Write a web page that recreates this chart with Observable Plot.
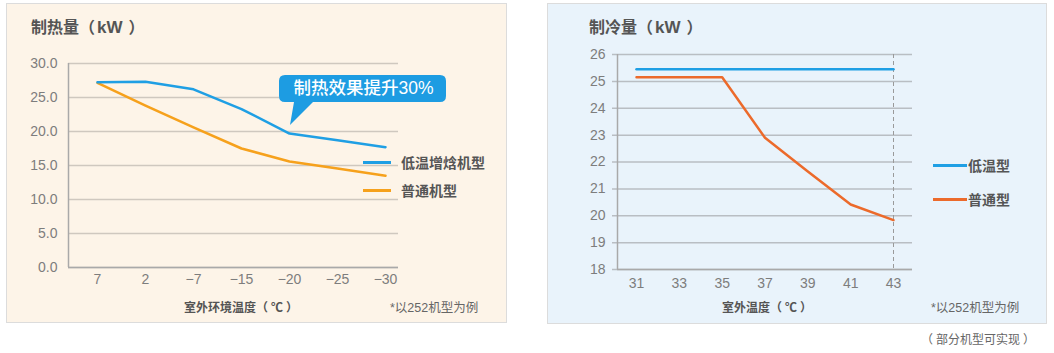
<!DOCTYPE html>
<html>
<head>
<meta charset="utf-8">
<script src="https://cdn.jsdelivr.net/npm/d3@7"></script>
<script src="https://cdn.jsdelivr.net/npm/@observablehq/plot@0.6"></script>
<style>
  html, body { margin: 0; padding: 0; background: #ffffff; }
  body { width: 1054px; height: 353px; position: relative; overflow: hidden;
         font-family: "Liberation Sans", "Noto Sans CJK SC", sans-serif; }
  .panel { position: absolute; box-sizing: border-box; border: 1.5px solid #dcdcdc; }
  .abs { position: absolute; white-space: nowrap; }
  .title { font-size: 16px; font-weight: bold; color: #555555; line-height: 20px; }
  .title .u { font-size: 17px; margin: 0 6px 0 2px; }
  .axt { font-size: 12px; font-weight: bold; color: #555555; line-height: 16px; }
  .axt .u { margin: 0 3px; }
  .note { font-size: 12.5px; color: #666666; line-height: 16px; }
  .note .u { margin: 0 3px; }
  .leg { font-size: 14px; font-weight: bold; color: #555555; line-height: 18px; }
  .sw { position: absolute; height: 3px; }
  .chart { position: absolute; top: 0; }
</style>
</head>
<body>
<script>
// ---------- data ----------
const heatTemps = ["7", "2", "\u22127", "\u221215", "\u221220", "\u221225", "\u221230"];
const heatLowTemp = [27.25, 27.3, 26.2, 23.3, 19.7, 18.7, 17.7];   // 低温增焓机型
const heatNormal  = [27.15, 23.8, 20.6, 17.5, 15.6, 14.55, 13.5];  // 普通机型
const heatYTicks  = [0, 5, 10, 15, 20, 25, 30];

const coolTemps   = [31, 33, 35, 37, 39, 41, 43];
const coolLowTemp = [25.45, 25.45, 25.45, 25.45, 25.45, 25.45, 25.45]; // 低温型
const coolNormal  = [25.15, 25.15, 25.15, 22.9, 21.65, 20.42, 19.84];  // 普通型
const coolYTicks  = [18, 19, 20, 21, 22, 23, 24, 25, 26];

const heatSeries = ["低温增焓机型", "普通机型"];
const coolSeries = ["低温型", "普通型"];
const calloutText = "制热效果提升30%";
const calloutAt = {t: "\u221220", v: 19.7};

const blue = "#1f9fe4";
const heatOrange = "#f6a11c";
const coolOrange = "#ec6a2b";

// ---------- tables ----------
const heatRows = heatTemps.flatMap((t, i) => [
  {t, v: heatLowTemp[i], s: heatSeries[0]},
  {t, v: heatNormal[i], s: heatSeries[1]}
]);
const coolRows = coolTemps.flatMap((t, i) => [
  {t, v: coolLowTemp[i], s: coolSeries[0]},
  {t, v: coolNormal[i], s: coolSeries[1]}
]);

const FONT = '"Liberation Sans", "Noto Sans CJK SC", sans-serif';

function leftAxisLine(color) {
  return (index, scales, values, dim) => {
    const g = d3.create("svg:g");
    g.append("line")
      .attr("x1", dim.marginLeft + 0.5).attr("x2", dim.marginLeft + 0.5)
      .attr("y1", dim.marginTop).attr("y2", dim.height - dim.marginBottom)
      .attr("stroke", color).attr("stroke-width", 1.5);
    return g.node();
  };
}

function callout(index, scales) {
  const tx = scales.x(calloutAt.t) + 1;
  const ty = scales.y(calloutAt.v) - 8;
  const g = d3.create("svg:g");
  const bx = tx - 11, by = ty - 50, bw = 167, bh = 27;
  g.append("path")
    .attr("d", `M${bx + 6},${by} H${bx + bw - 6} Q${bx + bw},${by} ${bx + bw},${by + 6} V${by + bh - 6} Q${bx + bw},${by + bh} ${bx + bw - 6},${by + bh} H${tx + 23} L${tx},${ty} L${tx + 4},${by + bh} H${bx + 6} Q${bx},${by + bh} ${bx},${by + bh - 6} V${by + 6} Q${bx},${by} ${bx + 6},${by} Z`)
    .attr("fill", "#1d9ce2");
  g.append("text")
    .attr("x", bx + bw / 2 + 1).attr("y", by + bh / 2 + 1)
    .attr("text-anchor", "middle").attr("dominant-baseline", "middle")
    .attr("fill", "#ffffff").attr("font-size", 17.5).attr("font-weight", 500)
    .attr("font-family", FONT)
    .text(calloutText);
  return g.node();
}

// ---------- heating chart ----------
const heat = Plot.plot({
  width: 507, height: 300,
  marginLeft: 68, marginRight: 109, marginTop: 63, marginBottom: 33,
  style: {background: "transparent", fontFamily: FONT, fontSize: "14px", color: "#7d7d7d", overflow: "visible"},
  x: {type: "point", domain: heatTemps, range: [96, 385], padding: 0},
  y: {domain: [0, 30]},
  marks: [
    Plot.ruleY(heatYTicks, {stroke: "#cfc8bf", strokeWidth: 1.5}),
    Plot.axisY({ticks: heatYTicks, tickFormat: d => d.toFixed(1), tickSize: 0, tickPadding: 11, label: null, fontSize: 14}),
    Plot.axisX({tickSize: 0, tickPadding: 7, label: null, fontSize: 14}),
    Plot.ruleY([0], {stroke: "#a9a9a9", strokeWidth: 1.5}),
    leftAxisLine("#a9a9a9"),
    Plot.line(heatRows.filter(d => d.s === heatSeries[1]), {x: "t", y: "v", stroke: heatOrange, strokeWidth: 2.5}),
    Plot.line(heatRows.filter(d => d.s === heatSeries[0]), {x: "t", y: "v", stroke: blue, strokeWidth: 2.5}),
    callout
  ]
});

// ---------- cooling chart ----------
const cool = Plot.plot({
  width: 500, height: 300,
  marginLeft: 70, marginRight: 135, marginTop: 54, marginBottom: 31,
  style: {background: "transparent", fontFamily: FONT, fontSize: "14px", color: "#7d7d7d", overflow: "visible"},
  x: {domain: [31, 43], range: [89, 346]},
  y: {domain: [18, 26]},
  marks: [
    Plot.ruleY(coolYTicks, {stroke: "#b9bec3", strokeWidth: 1.5, insetLeft: -5}),
    Plot.axisY({ticks: coolYTicks, tickSize: 0, tickPadding: 12, label: null, fontSize: 14}),
    Plot.axisX({ticks: coolTemps, tickSize: 0, tickPadding: 9, label: null, fontSize: 14}),
    Plot.ruleX([coolTemps[coolTemps.length - 1]], {stroke: "#9a9a9a", strokeWidth: 1, strokeDasharray: "4,3"}),
    Plot.ruleY([18], {stroke: "#a9a9a9", strokeWidth: 1.5}),
    leftAxisLine("#a9a9a9"),
    Plot.line(coolRows.filter(d => d.s === coolSeries[0]), {x: "t", y: "v", stroke: blue, strokeWidth: 2.5}),
    Plot.line(coolRows.filter(d => d.s === coolSeries[1]), {x: "t", y: "v", stroke: coolOrange, strokeWidth: 2.5})
  ]
});

// ---------- layout ----------
function el(cls, html, css) {
  const d = document.createElement("div");
  d.className = cls;
  if (html != null) d.innerHTML = html;
  Object.assign(d.style, css);
  document.body.appendChild(d);
  return d;
}

el("panel", null, {left: "6px", top: "3px", width: "501px", height: "320px", background: "#fdf4e8"});
el("panel", null, {left: "547px", top: "3px", width: "500px", height: "321px", background: "#e9f3fb"});

heat.classList.add("chart"); heat.style.left = "0px"; document.body.appendChild(heat);
cool.classList.add("chart"); cool.style.left = "547px"; document.body.appendChild(cool);

el("abs title", '制热量（<span class="u">kW</span>）', {left: "31px", top: "18px"});
el("abs title", '制冷量（<span class="u">kW</span>）', {left: "589px", top: "18px"});

el("abs axt", '室外环境温度（<span class="u">℃</span>）', {left: "184px", top: "300px"});
el("abs axt", '室外温度（<span class="u">℃</span>）', {left: "722px", top: "300px"});
el("abs note", "*以252机型为例", {left: "390px", top: "300px"});
el("abs note", "*以252机型为例", {left: "931px", top: "300px"});
el("abs note", '（<span class="u">部分机型可实现</span>）', {left: "921px", top: "332px", fontSize: "12px"});

// legends
el("sw", null, {left: "363px", top: "161px", width: "28px", background: blue});
el("abs leg", heatSeries[0], {left: "401px", top: "154px"});
el("sw", null, {left: "363px", top: "189px", width: "28px", background: heatOrange});
el("abs leg", heatSeries[1], {left: "401px", top: "182px"});

el("sw", null, {left: "933px", top: "164px", width: "34px", background: blue});
el("abs leg", coolSeries[0], {left: "968px", top: "157px"});
el("sw", null, {left: "933px", top: "198px", width: "34px", background: coolOrange});
el("abs leg", coolSeries[1], {left: "968px", top: "191px"});
</script>
</body>
</html>
